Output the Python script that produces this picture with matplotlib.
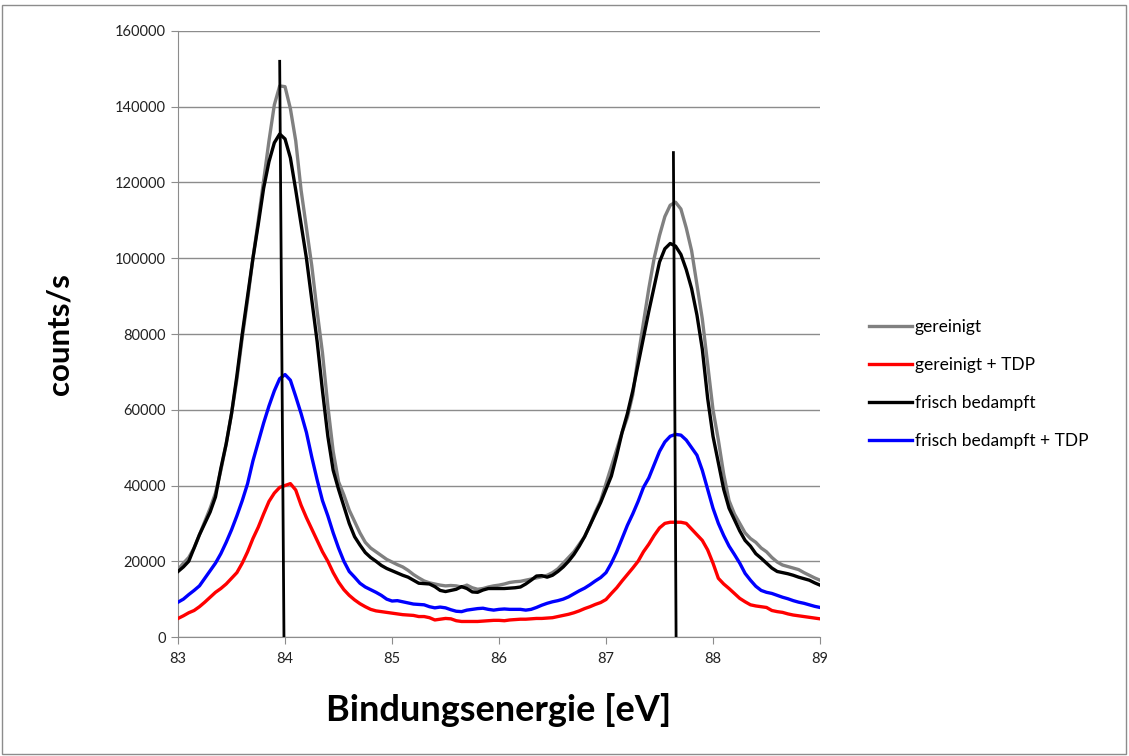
import numpy as np
import matplotlib
matplotlib.use("Agg")
import matplotlib.pyplot as plt
from matplotlib.patches import Rectangle

plt.rcParams['font.family'] = ['Lato', 'DejaVu Sans']

# Bindungsenergie in eV, 0.05 eV Schritte
energie = np.round(np.arange(83.0, 89.0001, 0.05), 2)

gereinigt = [
    17800, 19500, 21000, 23500, 27000, 30500, 34000, 38000, 44000, 51000,
    59000, 68000, 79000, 89000, 100000, 110000, 120500, 131000, 140500, 145500,
    145300, 139500, 131000, 118000, 108000, 98000, 86000, 75000, 61000, 49000,
    41000, 37500, 33500, 30500, 27500, 25000, 23500, 22500, 21500, 20500,
    19800, 19100, 18500, 17600, 16500, 15600, 14800, 14300, 14000, 13700,
    13500, 13600, 13500, 13200, 13700, 13000, 12600, 12800, 13200, 13500,
    13700, 14000, 14400, 14600, 14700, 15000, 15300, 15600, 15900, 16300,
    17000, 18000, 19500, 21000, 22500, 24500, 26500, 29500, 33000, 36000,
    40500, 45000, 49500, 54000, 58000, 64000, 74000, 83000, 92000, 100000,
    106000, 111000, 114000, 114800, 113000, 108000, 102000, 93000, 84000, 72000,
    60000, 52000, 43000, 36000, 32500, 30000, 27500, 26000, 25000, 23500,
    22500, 21000, 19800, 19000, 18600, 18200, 17800, 17000, 16300, 15600,
    15000,
]

gereinigt_tdp = [
    4900, 5600, 6400, 7000, 8000, 9200, 10500, 11800, 12800, 14000,
    15500, 17000, 19500, 22500, 26000, 29000, 32500, 35800, 38000, 39500,
    40000, 40500, 38800, 34800, 31500, 28500, 25500, 22500, 20000, 17000,
    14500, 12500, 11000, 9800, 8800, 8000, 7300, 6900, 6700, 6500,
    6300, 6100, 5900, 5800, 5700, 5400, 5400, 5100, 4500, 4700,
    4900, 4800, 4300, 4100, 4100, 4100, 4100, 4200, 4300, 4400,
    4400, 4300, 4500, 4600, 4700, 4700, 4800, 4900, 4900, 5000,
    5100, 5400, 5700, 6000, 6400, 6900, 7500, 8000, 8600, 9100,
    9900, 11500, 13000, 14800, 16500, 18200, 20000, 22500, 24500, 26800,
    28800, 30000, 30300, 30300, 30300, 30000, 28500, 27000, 25500, 23000,
    19500, 15500, 14000, 12800, 11500, 10200, 9300, 8500, 8200, 8000,
    7800, 7000, 6700, 6500, 6100, 5800, 5600, 5400, 5200, 5000,
    4800,
]

frisch = [
    17300, 18500, 20000, 23500, 27000, 30000, 33000, 37000, 44500, 51000,
    59000, 69000, 80000, 90000, 100000, 109000, 118500, 125500, 130500, 132800,
    131500, 126500, 118000, 109000, 100000, 89000, 78000, 65000, 53000, 44000,
    39000, 34500, 30000, 26500, 24300, 22300, 21000, 20000, 18900, 18100,
    17500, 16900, 16300, 15800, 15000, 14200, 14100, 14000, 13300, 12300,
    12000, 12300, 12600, 13300, 12800, 11900, 11800, 12400, 12800, 12800,
    12800, 12800, 12900, 13000, 13200, 14000, 15000, 16100, 16200, 15800,
    16300, 17300, 18500, 20000, 21800, 24000, 26500, 29500, 32500, 35500,
    39000, 42500, 48000, 54000, 59000, 65000, 72000, 79000, 86000, 92500,
    99000, 102500, 103900, 103200, 101000, 97000, 92000, 85000, 76000, 63000,
    53000, 46000, 39000, 34000, 31000, 28000, 25500, 24000, 22000, 20800,
    19500, 18200, 17300, 17000, 16700, 16300, 15800, 15400, 15000, 14300,
    13700,
]

frisch_tdp = [
    9200, 10000, 11200, 12300, 13500, 15500, 17500, 19500, 22000, 25000,
    28300, 32000, 36000, 40500, 46500, 51500, 56500, 61000, 65000, 68200,
    69300, 67800, 63500, 59000, 54000, 47500, 41500, 36000, 32000, 27500,
    23500, 20000, 17300, 15800, 14200, 13200, 12500, 11800, 11000, 10000,
    9500, 9600, 9300, 9000, 8700, 8600, 8500, 8000, 7700, 7900,
    7700, 7200, 6800, 6700, 7100, 7300, 7500, 7600, 7300, 7100,
    7300, 7400, 7300, 7300, 7300, 7100, 7300, 7800, 8400, 8900,
    9300, 9600, 10000, 10600, 11400, 12200, 12900, 13800, 14800, 15700,
    17000, 19500, 22500, 26000, 29500, 32500, 35800, 39500, 42000, 45500,
    49000, 51500, 53000, 53500, 53300, 52000, 50000, 48000, 44000, 39000,
    34000, 30000, 26800, 24000, 21800, 19500, 16800, 15000, 13400, 12300,
    11800, 11500, 11000, 10500, 10100, 9600, 9200, 8900, 8500, 8100,
    7800,
]

# Markierungslinien der Peakpositionen
marker1_x = [83.95, 83.99]
marker1_y = [152000, 0]
marker2_x = [87.63, 87.655]
marker2_y = [127900, 0]

fig = plt.figure(figsize=(11.29, 7.56), dpi=100)
ax = fig.add_axes([0.1577, 0.1574, 0.5686, 0.8016])

lw = 2.4
ax.plot(energie, gereinigt, color='#808080', lw=lw, label='gereinigt', zorder=3)
ax.plot(energie, gereinigt_tdp, color='#ff0000', lw=lw, label='gereinigt + TDP', zorder=3)
ax.plot(energie, frisch, color='black', lw=lw, label='frisch bedampft', zorder=4)
ax.plot(energie, frisch_tdp, color='#0000ff', lw=lw, label='frisch bedampft + TDP', zorder=3)
ax.plot(marker1_x, marker1_y, color='black', lw=2, zorder=5)
ax.plot(marker2_x, marker2_y, color='black', lw=2, zorder=5)

ax.set_xlim(83, 89)
ax.set_ylim(0, 160000)
ax.set_xticks(range(83, 90))
ax.set_yticks(range(0, 160001, 20000))
ax.grid(axis='y', color='#8c8c8c', lw=1)
ax.set_axisbelow(True)
for s in ['top', 'right']:
    ax.spines[s].set_visible(False)
for s in ['left', 'bottom']:
    ax.spines[s].set_color('#8c8c8c')
ax.tick_params(axis='both', colors='#8c8c8c', labelcolor='#222222', labelsize=10.5, length=5)
ax.tick_params(axis='x', pad=6)

ax.set_xlabel('Bindungsenergie [eV]', fontsize=26, fontweight='bold', labelpad=19)
ax.set_ylabel('counts/s', fontsize=22.5, fontweight='bold', labelpad=30)

fig.legend(loc='upper left', bbox_to_anchor=(0.7555, 0.599), frameon=False,
           fontsize=12.5, handlelength=2.5, handletextpad=0.15, labelspacing=1.27)

fig.patches.append(Rectangle((0.002, 0.003), 0.995, 0.99, transform=fig.transFigure,
                             fill=False, edgecolor='#8c8c8c', lw=1))

fig.savefig('out.png', dpi=100)
